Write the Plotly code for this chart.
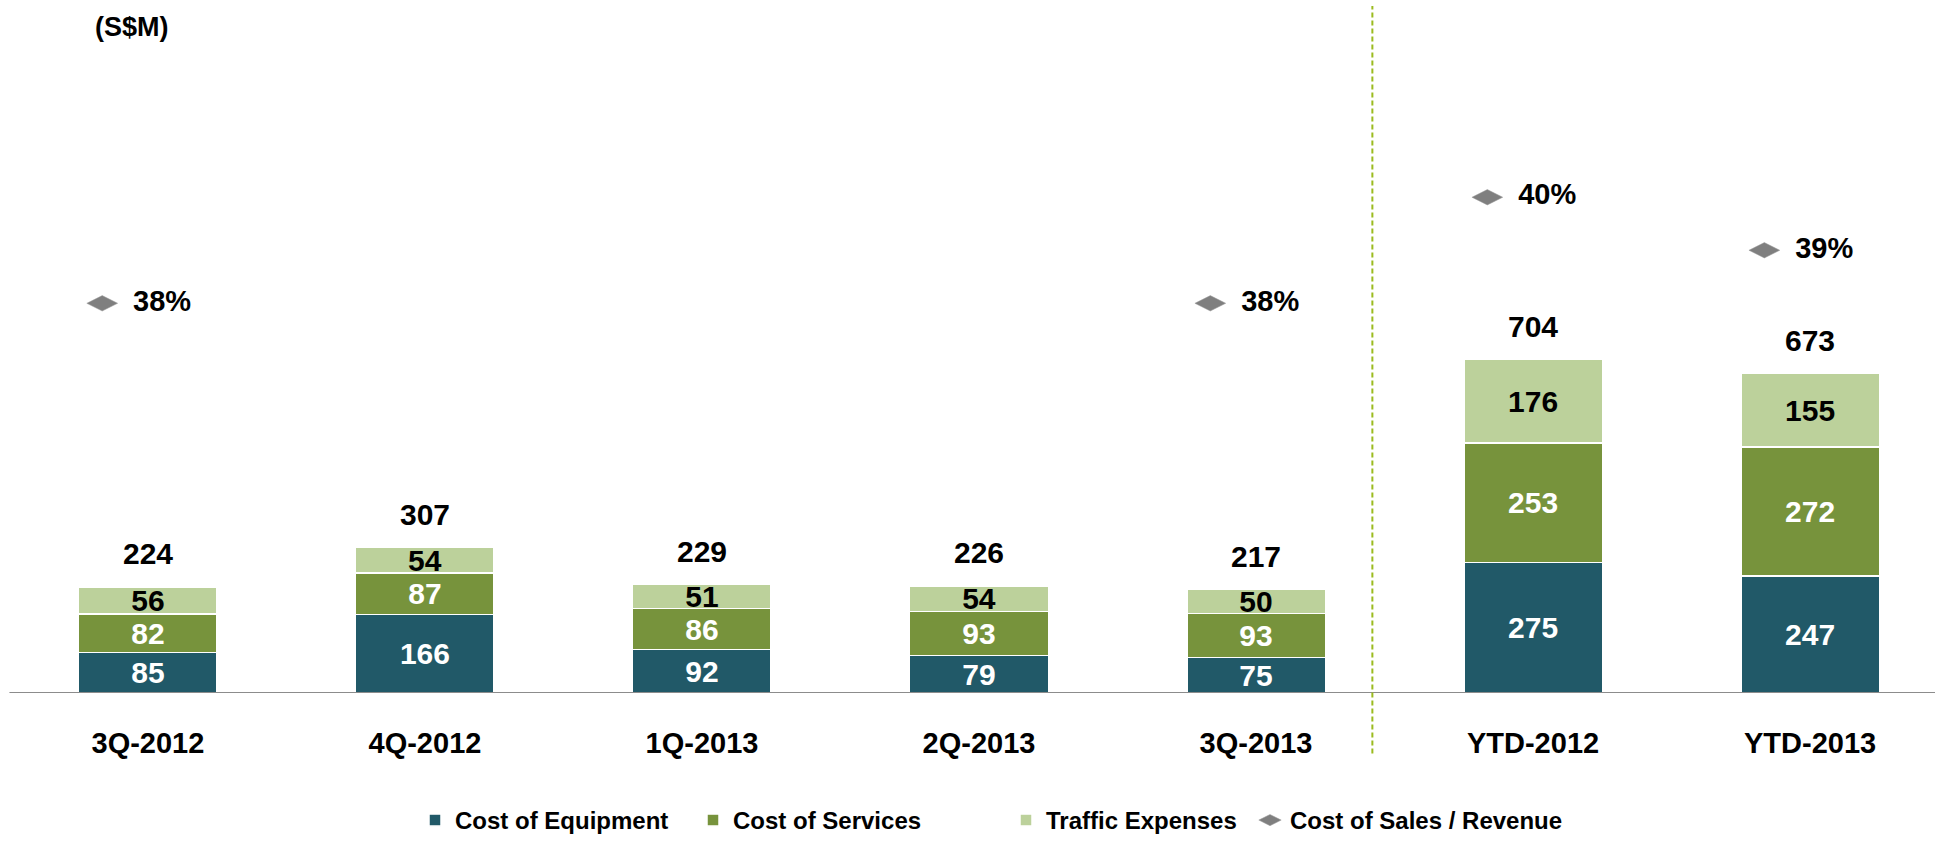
import plotly.graph_objects as go

# ---- data (S$M) ----
categories = ["3Q-2012", "4Q-2012", "1Q-2013", "2Q-2013", "3Q-2013", "YTD-2012", "YTD-2013"]
cost_of_equipment = [85, 166, 92, 79, 75, 275, 247]
cost_of_services = [82, 87, 86, 93, 93, 253, 272]
traffic_expenses = [56, 54, 51, 54, 50, 176, 155]
totals = [224, 307, 229, 226, 217, 704, 673]
cost_of_sales_pct = [38, None, None, None, 38, 40, 39]

# ---- styling ----
FONT = "Liberation Sans, Arial, Helvetica, sans-serif"
C_EQUIP = "#215968"
C_SERV = "#77933C"
C_TRAFFIC = "#BCD19B"
C_RATIO = "#7F7F7F"

W, H = 1935, 843
MARGIN_B = 145
PLOT_H = H - MARGIN_B
BAR_W = 0.5
RATIO_SHIFT = -0.165      # ratio markers sit slightly left of each bar
SEPARATOR_X = 4.42        # divider between quarterly and YTD groups

x_idx = list(range(len(categories)))

fig = go.Figure()

segments = [
    ("Cost of Equipment", cost_of_equipment, C_EQUIP, "white", "legend"),
    ("Cost of Services", cost_of_services, C_SERV, "white", "legend2"),
    ("Traffic Expenses", traffic_expenses, C_TRAFFIC, "black", "legend3"),
]
for name, vals, color, tcolor, leg in segments:
    fig.add_trace(go.Bar(
        x=x_idx, y=vals, name=name, width=BAR_W,
        marker=dict(color=color, line=dict(color="white", width=1.5)),
        text=[str(v) for v in vals],
        textposition="inside", insidetextanchor="middle",
        constraintext="none", textangle=0,
        textfont=dict(family=FONT, size=30, color=tcolor, weight="bold"),
        legend=leg, hoverinfo="skip",
    ))

fig.add_trace(go.Scatter(
    x=[i + RATIO_SHIFT for i in x_idx], y=cost_of_sales_pct,
    yaxis="y2", name="Cost of Sales / Revenue",
    mode="markers+text",
    marker=dict(symbol="diamond-wide", size=22, color=C_RATIO,
                line=dict(color="#9A9A9A", width=0.5)),
    text=[("  %d%%" % v) if v is not None else "" for v in cost_of_sales_pct],
    textposition="middle right",
    textfont=dict(family=FONT, size=29, color="black", weight="bold"),
    cliponaxis=False, legend="legend4", hoverinfo="skip",
))

# totals above each stack
for i, t in zip(x_idx, totals):
    fig.add_annotation(
        x=i, y=t, xref="x", yref="y", text=str(t), showarrow=False,
        yanchor="bottom", yshift=15,
        font=dict(family=FONT, size=30, color="black", weight="bold"),
    )

# unit label
fig.add_annotation(
    x=93 / W, y=(PLOT_H - 27) / PLOT_H, xref="paper", yref="paper",
    text="(S$M)", showarrow=False, xanchor="left", yanchor="middle",
    font=dict(family=FONT, size=27, color="black", weight="bold"),
)

# baseline and group divider
fig.add_shape(type="line", xref="x", yref="y", x0=-0.5, x1=7, y0=0, y1=0,
              line=dict(color="#8C8C8C", width=2), layer="above")
fig.add_shape(type="line", xref="x", yref="paper",
              x0=SEPARATOR_X, x1=SEPARATOR_X,
              y0=(PLOT_H - 759) / PLOT_H, y1=(PLOT_H - 6) / PLOT_H,
              line=dict(color="#9BBB1F", width=2, dash="5px,3px"))

legend_font = dict(family=FONT, size=24, color="black", weight="bold")
legend_y = (PLOT_H - 827) / PLOT_H


def legend_at(px):
    return dict(x=px / W, y=legend_y, xanchor="left", yanchor="middle",
                orientation="h", font=legend_font, bgcolor="rgba(0,0,0,0)",
                borderwidth=0)


fig.update_layout(
    width=W, height=H,
    margin=dict(l=0, r=0, t=0, b=MARGIN_B),
    paper_bgcolor="white", plot_bgcolor="white",
    barmode="stack", showlegend=True,
    xaxis=dict(range=[-0.534, 6.451], tickvals=x_idx, ticktext=categories,
               showgrid=False, zeroline=False, showline=False, ticks="",
               ticklabelstandoff=30, fixedrange=True,
               tickfont=dict(family=FONT, size=29, color="black", weight="bold")),
    yaxis=dict(range=[0, 1463], visible=False, fixedrange=True),
    yaxis2=dict(range=[30.65, 43.72], overlaying="y", visible=False, fixedrange=True),
    legend=legend_at(415),
    legend2=legend_at(693),
    legend3=legend_at(1006),
    legend4=legend_at(1250),
)

fig.write_html("out.html")
